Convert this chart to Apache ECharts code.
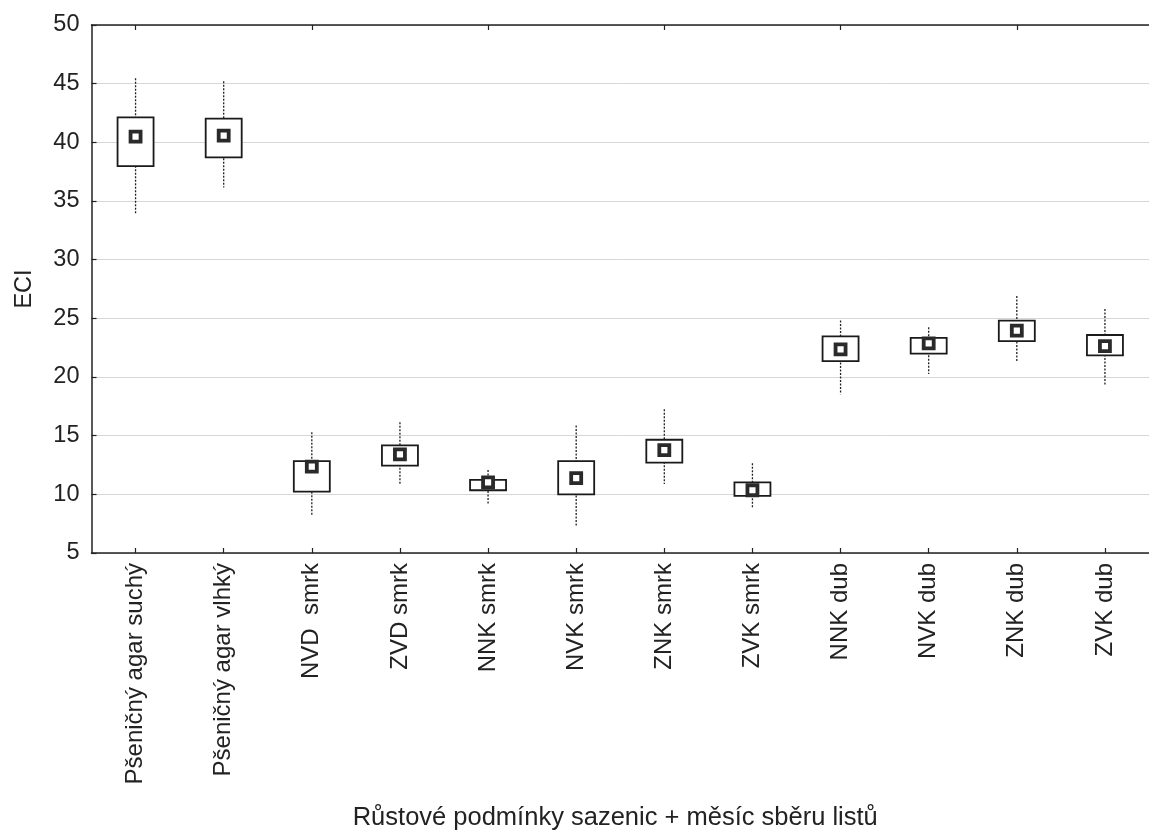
<!DOCTYPE html>
<html>
<head>
<meta charset="utf-8">
<script src="https://cdn.jsdelivr.net/npm/echarts@6/dist/echarts.min.js"></script>
<style>
html,body{margin:0;padding:0;background:#fff;}
#chart{width:1149px;height:836px;}
</style>
</head>
<body>
<div id="chart"></div>
<script>
var categories = ['Pšeničný agar suchý','Pšeničný agar vlhký','NVD  smrk','ZVD smrk','NNK smrk','NVK smrk','ZNK smrk','ZVK smrk','NNK dub','NVK dub','ZNK dub','ZVK dub'];
var whiskerLow  = [33.96, 36.15, 8.16, 10.88, 9.14, 7.33, 10.88, 8.78, 18.52, 20.25, 21.35, 19.36];
var boxLow      = [37.97, 38.72, 10.23, 12.45, 10.35, 10.00, 12.70, 9.87, 21.35, 21.99, 23.05, 21.85];
var means       = [40.49, 40.57, 12.36, 13.40, 11.02, 11.38, 13.76, 10.35, 22.35, 22.86, 23.95, 22.63];
var boxHigh     = [42.13, 42.02, 12.83, 14.18, 11.24, 12.83, 14.65, 11.02, 23.47, 23.33, 24.81, 23.58];
var whiskerHigh = [45.47, 45.21, 15.30, 16.14, 12.08, 15.86, 17.26, 12.64, 24.81, 24.25, 26.91, 25.80];
var yTicks = [5, 10, 15, 20, 25, 30, 35, 40, 45, 50];

var FONT = 'Liberation Sans, Arial, sans-serif';
var chart = echarts.init(document.getElementById('chart'), null, {renderer: 'canvas'});

var seriesData = categories.map(function (c, i) {
  return [i, whiskerLow[i], boxLow[i], means[i], boxHigh[i], whiskerHigh[i]];
});

function renderItem(params, api) {
  var i = api.value(0);
  var pWL = api.coord([i, api.value(1)]);
  var pBL = api.coord([i, api.value(2)]);
  var pM  = api.coord([i, api.value(3)]);
  var pBH = api.coord([i, api.value(4)]);
  var pWH = api.coord([i, api.value(5)]);
  var x = pM[0];
  var bw = 36;
  var ms = 10;
  return {
    type: 'group',
    children: [
      {type: 'line', shape: {x1: x, y1: pWH[1], x2: x, y2: pWL[1]},
       style: {stroke: '#222', lineWidth: 1.3, lineDash: [2, 1.5]}},
      {type: 'rect', shape: {x: x - bw / 2, y: pBH[1], width: bw, height: pBL[1] - pBH[1]},
       style: {fill: '#fff', stroke: '#1a1a1a', lineWidth: 1.8}},
      {type: 'rect', shape: {x: x - ms / 2, y: pM[1] - ms / 2, width: ms, height: ms},
       style: {fill: '#fff', stroke: '#2a2a2a', lineWidth: 3.8}}
    ]
  };
}

chart.setOption({
  backgroundColor: '#fff',
  animation: false,
  grid: {left: 91.5, top: 25, width: 1069, height: 536, containLabel: false},
  xAxis: [{
    type: 'category',
    data: categories,
    position: 'bottom',
    boundaryGap: true,
    axisLine: {show: true, lineStyle: {color: '#222', width: 1.5}},
    axisTick: {show: true, inside: true, alignWithLabel: true, length: 5, lineStyle: {color: '#222', width: 1.2}},
    axisLabel: {rotate: 90, margin: 10, fontSize: 24, fontFamily: FONT, color: '#222', interval: 0},
    splitLine: {show: false},
    name: 'Růstové podmínky sazenic + měsíc sběru listů',
    nameLocation: 'middle',
    nameGap: 252,
    nameTextStyle: {fontSize: 25.5, fontFamily: FONT, color: '#222', padding: [0, 10, 0, 0]}
  }, {
    type: 'category',
    data: categories,
    position: 'top',
    boundaryGap: true,
    axisLine: {show: true, lineStyle: {color: '#222', width: 1.5}},
    axisTick: {show: true, inside: true, alignWithLabel: true, length: 5, lineStyle: {color: '#222', width: 1.2}},
    axisLabel: {show: false},
    splitLine: {show: false}
  }],
  yAxis: {
    type: 'value',
    min: 5, max: 50, interval: 5,
    axisLine: {show: true, lineStyle: {color: '#222', width: 1.5}},
    axisTick: {show: true, inside: true, length: 5, lineStyle: {color: '#222', width: 1.2}},
    axisLabel: {margin: 12, fontSize: 23.5, fontFamily: FONT, color: '#222',
      formatter: function (v) { return yTicks.indexOf(v) >= 0 ? String(v) : ''; }},
    splitLine: {show: true, lineStyle: {color: '#d6d6d6', width: 1}},
    name: 'ECI',
    nameLocation: 'middle',
    nameGap: 55,
    nameRotate: 90,
    nameTextStyle: {fontSize: 23.5, fontFamily: FONT, color: '#222'}
  },
  series: [{
    type: 'custom',
    xAxisIndex: 0,
    renderItem: renderItem,
    encode: {x: 0, y: [1, 2, 3, 4, 5]},
    data: seriesData,
    z: 10
  }]
});
</script>
</body>
</html>
